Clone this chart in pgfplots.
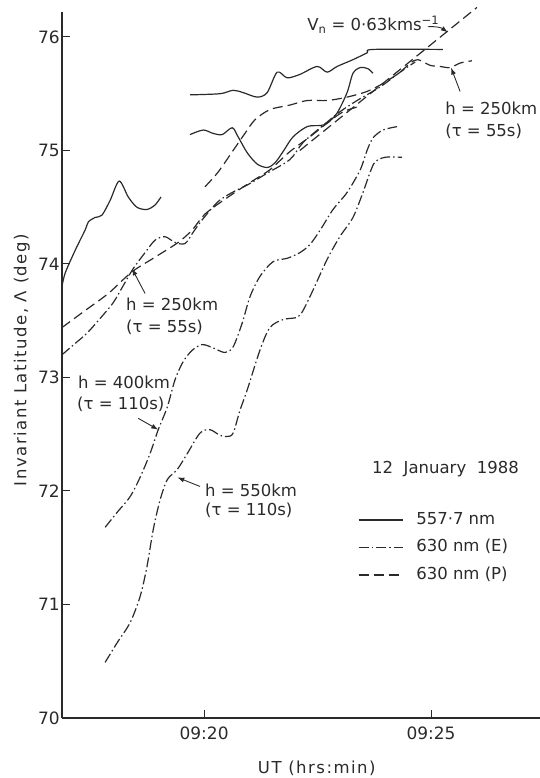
\documentclass[border=0pt]{standalone}
\usepackage{pgfplots}
\pgfplotsset{compat=1.18}
\usepackage{fontspec}
\setmainfont{DejaVu Sans}
\newfontfamily\spaced{DejaVu Sans}[LetterSpace=9]
\usetikzlibrary{arrows.meta}
\definecolor{ink}{HTML}{2A2A2A}
\begin{document}
\begin{tikzpicture}
\path[use as bounding box] (-62pt,-60pt) rectangle (478pt,718pt);
\begin{axis}[
  at={(0pt,0pt)}, anchor=south west,
  scale only axis, width=478pt, height=706pt,
  xmin=16.87, xmax=27.4, ymin=70, ymax=76.22,
  axis lines*=left,
  axis line style={ink, line width=1.1pt},
  clip=false,
  tick align=inside, major tick length=8pt,
  tick style={ink, line width=1pt},
  xtick={20,25}, xticklabels={09:20,09:25},
  ytick={70,71,72,73,74,75,76},
  /pgf/number format/assume math mode=true,
  ticklabel style={font=\fontsize{17}{20}\selectfont, text=ink},
  xticklabel style={yshift=-5pt},
  yticklabel style={inner xsep=2pt},
  xlabel={UT (hrs:min)},
  ylabel={Invariant Latitude, Λ (deg)},
  label style={font=\spaced\fontsize{16.5}{20}\selectfont, text=ink},
  xlabel style={at={(axis description cs:0.533,-0.071)}, anchor=center},
  ylabel style={at={(axis description cs:-0.084,0.507)}, anchor=center},
  legend style={draw=none, fill=none, at={(0.619,0.292)}, anchor=north west,
    font=\fontsize{16.5}{20}\selectfont, text=ink, inner sep=0pt,
    nodes={inner sep=0pt, text height=12pt, text depth=4pt},
    column sep=13pt, row sep=11.5pt},
  legend cell align=left,
  legend image code/.code={\draw[#1] (0pt,0pt) -- (44pt,0pt);},
  every axis plot/.append style={ink, line width=1.2pt},
]
% 557.7 nm (solid)
\addplot[smooth, tension=0.5] coordinates {
(16.87,73.80)(16.94,73.92)(17.16,74.12)(17.38,74.30)(17.45,74.37)(17.60,74.41)(17.75,74.43)(17.93,74.56)(18.13,74.73)(18.33,74.59)(18.52,74.50)(18.74,74.48)(18.92,74.52)(19.05,74.59)};
\addlegendentry{557·7 nm}
\addplot[smooth, tension=0.5, forget plot] coordinates {
(19.69,75.49)(20.35,75.50)(20.64,75.53)(20.86,75.51)(21.17,75.47)(21.39,75.51)(21.61,75.69)(21.83,75.64)(22.11,75.67)(22.49,75.74)(22.71,75.69)(22.93,75.74)(23.28,75.80)(23.59,75.86)(23.72,75.89)(25.26,75.89)};
\addplot[smooth, tension=0.5, forget plot] coordinates {
(19.69,75.14)(19.98,75.18)(20.20,75.15)(20.40,75.14)(20.62,75.20)(20.75,75.12)(20.95,74.98)(21.17,74.88)(21.39,74.85)(21.56,74.89)(21.74,74.99)(21.96,75.12)(22.27,75.21)(22.56,75.22)(22.71,75.24)(22.93,75.33)(23.15,75.51)(23.28,75.68)(23.44,75.73)(23.61,75.72)(23.72,75.68)};
% 630 nm (E) dash-dot
\addplot[smooth, tension=0.5, dash pattern=on 10pt off 3pt on 1.5pt off 3pt] coordinates {
(16.87,73.20)(17.16,73.30)(17.42,73.39)(17.71,73.52)(18.00,73.66)(18.22,73.81)(18.44,73.96)(18.70,74.10)(18.92,74.21)(19.14,74.24)(19.36,74.19)(19.58,74.18)(19.76,74.28)(19.96,74.39)(20.31,74.55)(20.62,74.63)(20.97,74.70)(21.39,74.80)(21.89,74.92)(22.18,75.07)(22.62,75.22)(22.99,75.34)(23.37,75.44)(23.88,75.56)(24.32,75.69)(24.65,75.78)};
\addlegendentry{630 nm (E)}
\addplot[smooth, tension=0.5, dash pattern=on 10pt off 3pt on 1.5pt off 3pt, forget plot] coordinates {
(17.82,71.68)(18.08,71.81)(18.37,71.95)(18.59,72.12)(18.81,72.33)(18.99,72.54)(19.19,72.74)(19.36,72.98)(19.54,73.14)(19.74,73.24)(19.96,73.29)(20.20,73.26)(20.46,73.22)(20.64,73.27)(20.84,73.48)(21.01,73.71)(21.23,73.89)(21.52,74.02)(21.83,74.05)(22.11,74.10)(22.33,74.17)(22.56,74.30)(22.84,74.48)(23.15,74.63)(23.44,74.83)(23.59,75.00)(23.72,75.11)(23.94,75.18)(24.25,75.21)};
\addplot[smooth, tension=0.5, dash pattern=on 10pt off 3pt on 1.5pt off 3pt, forget plot] coordinates {
(17.82,70.49)(18.08,70.66)(18.37,70.84)(18.59,71.07)(18.74,71.33)(18.88,71.66)(19.03,71.92)(19.19,72.10)(19.41,72.19)(19.63,72.33)(19.91,72.51)(20.13,72.54)(20.35,72.49)(20.51,72.48)(20.64,72.51)(20.79,72.71)(20.95,72.89)(21.23,73.24)(21.45,73.44)(21.74,73.51)(22.05,73.53)(22.18,73.59)(22.40,73.77)(22.71,74.04)(22.99,74.24)(23.28,74.41)(23.50,74.63)(23.66,74.81)(23.77,74.90)(23.99,74.94)(24.36,74.94)};
% 630 nm (P) dashed
\addplot[smooth, tension=0.5, dash pattern=on 10pt off 5pt] coordinates {
(16.87,73.44)(17.38,73.59)(17.89,73.74)(18.41,73.93)(18.92,74.06)(19.43,74.19)(19.74,74.30)(20.02,74.44)(20.53,74.59)(21.06,74.73)(21.45,74.83)(21.89,74.99)(22.33,75.12)(22.71,75.24)(23.06,75.34)(23.44,75.39)};
\addlegendentry{630 nm (P)}
\addplot[smooth, tension=0.5, dash pattern=on 10pt off 5pt, forget plot] coordinates {
(20.02,74.68)(20.31,74.81)(20.64,75.00)(20.90,75.15)(21.12,75.27)(21.45,75.36)(21.89,75.40)(22.27,75.44)(22.71,75.44)(23.15,75.47)(23.59,75.52)(23.94,75.59)(24.32,75.69)(24.54,75.77)(24.71,75.80)(24.98,75.75)(25.20,75.74)(25.42,75.73)(25.64,75.77)(25.90,75.79)};
\addplot[dash pattern=on 10pt off 5pt, forget plot] coordinates {
(22.11,75.00)(26.01,76.26)};
% annotations
\begin{scope}[font=\fontsize{16.5}{20}\selectfont, text=ink]
\node[anchor=west, inner sep=0pt] at (axis cs:22.27,76.11) {V\textsubscript{n} = 0·63kms\textsuperscript{−1}};
\draw[ink, line width=0.9pt, -{Latex[length=7pt,width=5pt]}] (axis cs:24.93,76.09) to[bend left=20] (axis cs:25.37,76.04);
\node[anchor=west, inner sep=0pt] at (axis cs:25.31,75.37) {h = 250km};
\node[anchor=west, inner sep=0pt] at (axis cs:25.31,75.17) {(τ = 55s)};
\draw[ink, line width=0.9pt, -{Latex[length=7pt,width=5pt]}] (axis cs:25.64,75.52) -- (axis cs:25.44,75.73);
\node[anchor=west, inner sep=0pt] at (axis cs:18.28,73.64) {h = 250km};
\node[anchor=west, inner sep=0pt] at (axis cs:18.28,73.44) {(τ = 55s)};
\draw[ink, line width=0.9pt, -{Latex[length=7pt,width=5pt]}] (axis cs:18.70,73.74) -- (axis cs:18.41,73.96);
\node[anchor=west, inner sep=0pt] at (axis cs:17.22,72.96) {h = 400km};
\node[anchor=west, inner sep=0pt] at (axis cs:17.20,72.76) {(τ = 110s)};
\draw[ink, line width=0.9pt, -{Latex[length=7pt,width=5pt]}] (axis cs:18.55,72.64) -- (axis cs:18.99,72.54);
\node[anchor=west, inner sep=0pt] at (axis cs:20.02,72.01) {h = 550km};
\node[anchor=west, inner sep=0pt] at (axis cs:20.02,71.83) {(τ = 110s)};
\draw[ink, line width=0.9pt, -{Latex[length=7pt,width=5pt]}] (axis cs:19.91,72.04) -- (axis cs:19.41,72.12);
\node[anchor=west, inner sep=0pt] at (axis cs:23.70,72.19) {12\ \ January\ \ 1988};
\end{scope}
\end{axis}
\end{tikzpicture}
\end{document}
